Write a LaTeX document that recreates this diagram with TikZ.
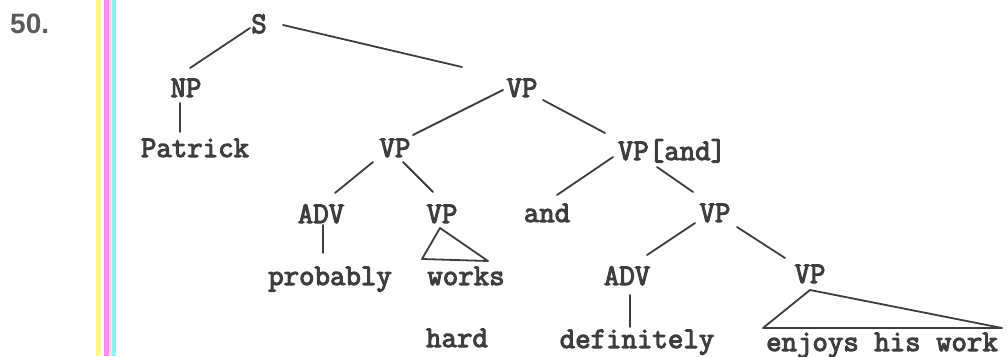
\documentclass[tikz,border=0pt]{standalone}
\usepackage{fontspec}
\newfontfamily\numfont{Liberation Sans}
\newfontfamily\treefont[FakeBold=3.5]{Latin Modern Mono}
\definecolor{ink}{HTML}{3E3E3E}
\definecolor{barY}{HTML}{FFF68A}
\definecolor{barM}{HTML}{FF8CEB}
\definecolor{barP}{HTML}{FFD6F4}
\definecolor{barC}{HTML}{8CF2F2}
\tikzset{
  lbl/.style={anchor=base, inner sep=0pt, text=ink, font=\fontsize{30}{34}\selectfont\treefont},
  edge/.style={draw=ink, line width=1.8pt, line cap=round, line join=round}
}
\begin{document}
\begin{tikzpicture}[x=1pt,y=-1pt]
\useasboundingbox (0,0) rectangle (1008,356);
% scanner colour bars
\fill[barY] (96,0) rectangle (101,356);
\fill[barM] (104,0) rectangle (109,356);
\fill[barP] (109,0) rectangle (112,356);
\fill[barC] (112,0) rectangle (116,356);
% item number
\node[anchor=base west, inner sep=0pt, text=ink!85, font=\fontsize{28}{30}\selectfont\numfont\bfseries] (num) at (10,33) {50.};
% nodes
\node[lbl] (S) at (259,33) {S};
\node[lbl] (NP) at (186,97) {NP};
\node[lbl] (VP1) at (522,97) {VP};
\node[lbl] (Pat) at (195,157) {Patrick};
\node[lbl] (VP2) at (395,157) {VP};
\node[lbl] (VPand) at (672,160) {VP[and]};
\node[lbl] (ADV1) at (321,223) {ADV};
\node[lbl] (VP3) at (442,223) {VP};
\node[lbl] (and) at (547,222) {and};
\node[lbl] (VP4) at (715,222) {VP};
\node[lbl] (prob) at (330,285) {probably};
\node[lbl] (works) at (466,285) {works};
\node[lbl] (ADV2) at (627,285) {ADV};
\node[lbl] (VP5) at (810,283) {VP};
\node[lbl] (hard) at (457,347) {hard};
\node[lbl] (def) at (637,348) {definitely};
\node[lbl] (enj) at (882,351) {enjoys his work};
% edges
\draw[edge] ([shift={(-9,-5)}]S.base) -- ([shift={(4,-29)}]NP.base);
\draw[edge] ([shift={(24,-8)}]S.base) -- ([shift={(-60,-30)}]VP1.base);
\draw[edge] ([shift={(-6,6)}]NP.base) -- ([shift={(-15,-25)}]Pat.base);
\draw[edge] ([shift={(-19,-7)}]VP1.base) -- ([shift={(18,-22)}]VP2.base);
\draw[edge] ([shift={(21,3)}]VP1.base) -- ([shift={(-67,-27)}]VPand.base);
\draw[edge] ([shift={(-22,5)}]VP2.base) -- ([shift={(14,-30)}]ADV1.base);
\draw[edge] ([shift={(8,5)}]VP2.base) -- ([shift={(-9,-31)}]VP3.base);
\draw[edge] ([shift={(2,2)}]ADV1.base) -- ([shift={(-7,-32)}]prob.base);
\draw[edge] ([shift={(-2,5)}]VP3.base) -- ([shift={(-44,-26)}]works.base) -- ([shift={(22,-24)}]works.base) -- cycle;
\draw[edge] ([shift={(-59,-3)}]VPand.base) -- ([shift={(10,-27)}]and.base);
\draw[edge] ([shift={(-15,7)}]VPand.base) -- ([shift={(-22,-30)}]VP4.base);
\draw[edge] ([shift={(-20,1)}]VP4.base) -- ([shift={(20,-30)}]ADV2.base);
\draw[edge] ([shift={(22,5)}]VP4.base) -- ([shift={(-25,-25)}]VP5.base);
\draw[edge] ([shift={(3,10)}]ADV2.base) -- ([shift={(-7,-21)}]def.base);
\draw[edge] ([shift={(0,7)}]VP5.base) -- ([shift={(-119,-23)}]enj.base) -- ([shift={(120,-23)}]enj.base) -- cycle;
\end{tikzpicture}
\end{document}
